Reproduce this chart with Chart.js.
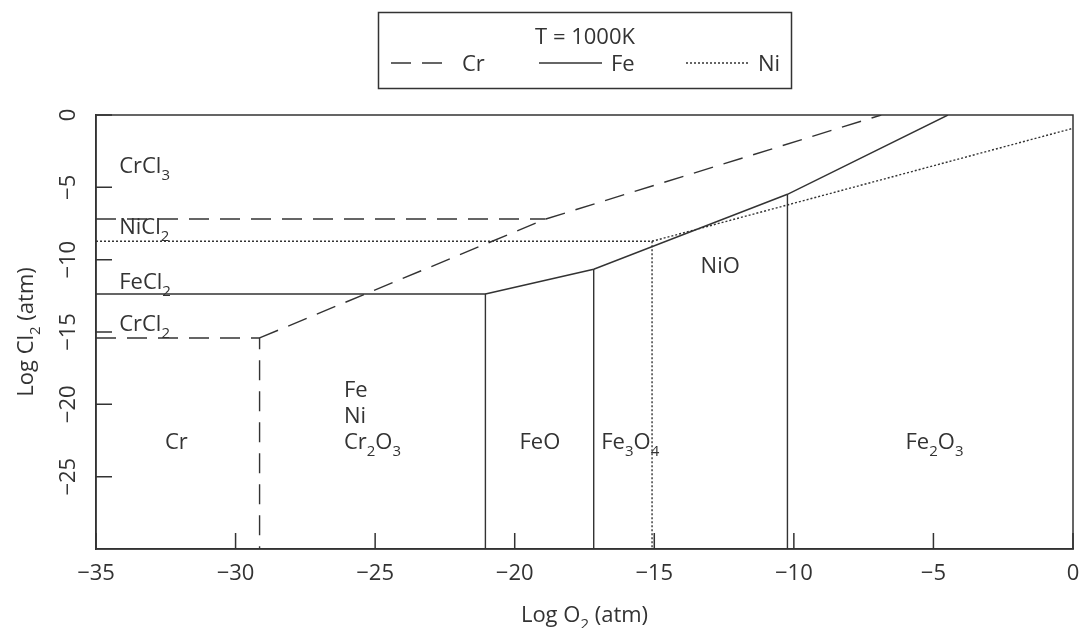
<!DOCTYPE html>
<html>
<head>
<meta charset="utf-8">
<script src="https://cdn.jsdelivr.net/npm/chart.js@4/dist/chart.umd.min.js"></script>
<style>
  body { margin:0; background:#fff; }
  #wrap { width:1081px; height:628px; }
</style>
</head>
<body>
<div id="wrap"><canvas id="chart" width="1081" height="628"></canvas></div>
<script>
// ---------------------------
// Data (log O2 on x, log Cl2 on y)
// ---------------------------
const xTicks = [-35, -30, -25, -20, -15, -10, -5, 0];
const yTicks = [0, -5, -10, -15, -20, -25];

// Cr (dashed)
const crCl3X = [-35, -18.89];          const crCl3Y = [-7.19, -7.19];
const crCl2X = [-35, -29.14, -29.14];  const crCl2Y = [-15.41, -15.41, -30];
const crOxX  = [-29.14, -18.89, -6.87]; const crOxY  = [-15.41, -7.19, 0];

// Fe (solid)
const feCl2X   = [-35, -21.05, -21.05];          const feCl2Y   = [-12.37, -12.37, -30];
const feOxX    = [-21.05, -17.17, -10.23, -4.48]; const feOxY    = [-12.37, -10.66, -5.48, 0];
const feFe3O4X = [-17.17, -17.17];               const feFe3O4Y = [-10.66, -30];
const feFe2O3X = [-10.23, -10.23];               const feFe2O3Y = [-5.48, -30];

// Ni (dotted)
const niCl2X = [-35, -15.08, -15.08]; const niCl2Y = [-8.73, -8.73, -30];
const niOX   = [-15.08, 0];           const niOY   = [-8.73, -0.92];

// region labels: text ("_n" = subscript), x, y (baseline), align
const labelText  = ['CrCl_3','NiCl_2','FeCl_2','CrCl_2','Fe','Ni','Cr_2O_3','Cr','FeO','Fe_3O_4','NiO','Fe_2O_3'];
const labelX     = [-34.17,-34.17,-34.17,-34.17,-26.12,-26.12,-26.12,-32.53,-19.1,-16.9,-13.34,-6.0];
const labelY     = [-3.99,-8.25,-12.05,-14.9,-19.47,-21.26,-23.08,-23.08,-23.08,-23.08,-10.94,-23.08];
const labelAlign = ['left','left','left','left','left','left','left','left','center','left','left','left'];

// ---------------------------
// Styles
// ---------------------------
const INK = '#333';
const FONT = '"Open Sans", "Noto Sans", sans-serif';
const DASH = [20, 11];
const DOT = [2, 2];

function pts(xs, ys){ return xs.map((x,i)=>({ x, y:ys[i] })); }
function ds(label, xs, ys, dash){
  return { label, data:pts(xs,ys), showLine:true, pointRadius:0, borderColor:INK,
           borderWidth:1.4, borderDash:dash, fill:false, tension:0 };
}

// text with subscripts
function richText(ctx, str, x, y, align, fs, rot){
  const parts = [];
  for (let i=0;i<str.length;i++){
    if (str[i]==='_' && i+1<str.length){ parts.push({ t:str[i+1], sub:true }); i++; }
    else {
      if (parts.length && !parts[parts.length-1].sub) parts[parts.length-1].t += str[i];
      else parts.push({ t:str[i], sub:false });
    }
  }
  const subFs = Math.round(fs*0.66);
  let w = 0;
  parts.forEach(p=>{ ctx.font = (p.sub?subFs:fs)+'px '+FONT; p.w = ctx.measureText(p.t).width; w += p.w; });
  ctx.save();
  ctx.translate(x, y);
  if (rot) ctx.rotate(rot);
  let cx = align==='center' ? -w/2 : (align==='right' ? -w : 0);
  ctx.fillStyle = INK; ctx.textBaseline = 'alphabetic'; ctx.textAlign = 'left';
  parts.forEach(p=>{
    ctx.font = (p.sub?subFs:fs)+'px '+FONT;
    ctx.fillText(p.t, cx, p.sub ? fs*0.32 : 0);
    cx += p.w;
  });
  ctx.restore();
}

// frame, inward ticks, labels, axis titles, legend
const decorPlugin = {
  id:'decor',
  afterDraw(chart){
    const ctx = chart.ctx, a = chart.chartArea;
    const xs = chart.scales.x, ys = chart.scales.y;
    ctx.save();
    ctx.strokeStyle = INK; ctx.lineWidth = 1.5; ctx.setLineDash([]);
    ctx.strokeRect(a.left, a.top, a.right-a.left, a.bottom-a.top);
    ctx.beginPath();
    xTicks.forEach(v=>{ const px = xs.getPixelForValue(v); ctx.moveTo(px, a.bottom); ctx.lineTo(px, a.bottom-16); });
    yTicks.forEach(v=>{ const py = ys.getPixelForValue(v); ctx.moveTo(a.left, py); ctx.lineTo(a.left+16, py); });
    ctx.stroke();

    labelText.forEach((t,i)=>{
      richText(ctx, t, xs.getPixelForValue(labelX[i]), ys.getPixelForValue(labelY[i]), labelAlign[i], 22);
    });

    // axis titles
    richText(ctx, 'Log O_2 (atm)', (a.left+a.right)/2, 622, 'center', 22);
    richText(ctx, 'Log Cl_2 (atm)', 33, (a.top+a.bottom)/2, 'center', 22, -Math.PI/2);

    // legend
    ctx.lineWidth = 1.5; ctx.strokeStyle = INK;
    ctx.strokeRect(378.5, 12.5, 413, 76);
    richText(ctx, 'T = 1000K', 585, 44, 'center', 22);
    const ly = 63;
    ctx.lineWidth = 1.4;
    ctx.setLineDash(DASH); ctx.beginPath(); ctx.moveTo(391, ly); ctx.lineTo(442, ly); ctx.stroke();
    ctx.setLineDash([]);   ctx.beginPath(); ctx.moveTo(539, ly); ctx.lineTo(602, ly); ctx.stroke();
    ctx.setLineDash(DOT);  ctx.beginPath(); ctx.moveTo(686, ly); ctx.lineTo(748, ly); ctx.stroke();
    ctx.setLineDash([]);
    richText(ctx, 'Cr', 462, 71, 'left', 22);
    richText(ctx, 'Fe', 611, 71, 'left', 22);
    richText(ctx, 'Ni', 758, 71, 'left', 22);
    ctx.restore();
  }
};

const minus = v => String(v).replace('-', '\u2212');

new Chart(document.getElementById('chart'), {
  type:'scatter',
  data:{ datasets:[
    ds('Cr', crCl3X, crCl3Y, DASH),
    ds('Cr', crCl2X, crCl2Y, DASH),
    ds('Cr', crOxX, crOxY, DASH),
    ds('Fe', feCl2X, feCl2Y, []),
    ds('Fe', feOxX, feOxY, []),
    ds('Fe', feFe3O4X, feFe3O4Y, []),
    ds('Fe', feFe2O3X, feFe2O3Y, []),
    ds('Ni', niCl2X, niCl2Y, DOT),
    ds('Ni', niOX, niOY, DOT)
  ]},
  options:{
    responsive:false, animation:false,
    layout:{ padding:{ top:115, right:8, left:0, bottom:0 } },
    plugins:{ legend:{ display:false }, tooltip:{ enabled:false } },
    scales:{
      x:{
        type:'linear', min:-35, max:0,
        afterBuildTicks: s => { s.ticks = xTicks.map(v=>({ value:v })); },
        afterFit: s => { s.height = 79; s.paddingLeft = 0; s.paddingRight = 0; },
        grid:{ display:false, drawTicks:false },
        border:{ display:true, color:INK, width:1.5 },
        ticks:{ color:INK, font:{ family:FONT, size:22 }, padding:12, maxRotation:0, callback:minus }
      },
      y:{
        type:'linear', min:-30, max:0,
        afterBuildTicks: s => { s.ticks = yTicks.map(v=>({ value:v })); },
        afterFit: s => { s.width = 96; s.paddingTop = 0; s.paddingBottom = 0; },
        grid:{ display:false, drawTicks:false },
        border:{ display:true, color:INK, width:1.5 },
        ticks:{ color:INK, font:{ family:FONT, size:22 }, padding:8, minRotation:90, maxRotation:90,
                crossAlign:'center', callback:minus }
      }
    }
  },
  plugins:[decorPlugin]
});
</script>
</body>
</html>
